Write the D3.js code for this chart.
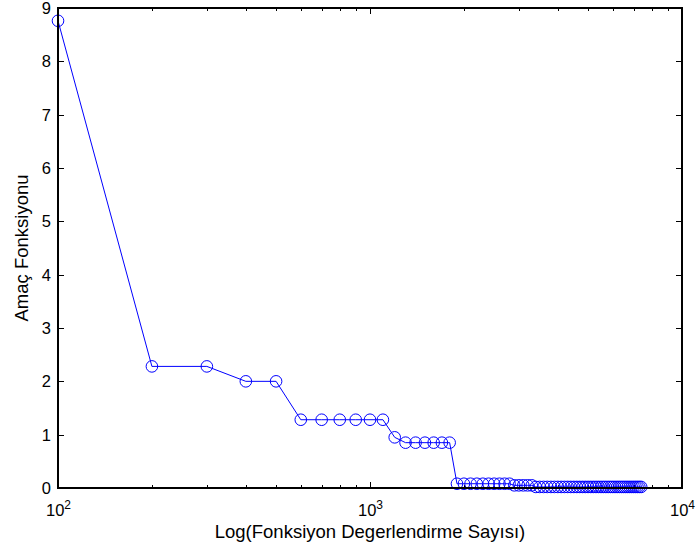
<!DOCTYPE html>
<html>
<head>
<meta charset="utf-8">
<script src="https://cdn.jsdelivr.net/npm/d3@7"></script>
<style>
  html, body { margin: 0; padding: 0; background: #fff; }
  svg { display: block; font-family: "Liberation Sans", Arial, Helvetica, sans-serif; }
</style>
</head>
<body>
<svg id="chart" width="697" height="551"></svg>
<script>
// ---- data ----
const evaluations = [100,200,300,400,500,600,700,800,900,1000,
  1100,1200,1300,1400,1500,1600,1700,1800,1900,2000,
  2100,2200,2300,2400,2500,2600,2700,2800,2900,3000,
  3100,3200,3300,3400,3500,3600,3700,3800,3900,4000,
  4100,4200,4300,4400,4500,4600,4700,4800,4900,5000,
  5100,5200,5300,5400,5500,5600,5700,5800,5900,6000,
  6100,6200,6300,6400,6500,6600,6700,6800,6900,7000,
  7100,7200,7300,7400];
const objective = [8.76,2.28,2.28,2.00,2.00,1.28,1.28,1.28,1.28,1.28,
  1.28,0.95,0.85,0.85,0.85,0.85,0.85,0.85,0.08,0.08,
  0.08,0.08,0.08,0.08,0.08,0.08,0.08,0.08,0.05,0.05,
  0.05,0.05,0.05,0.02,0.02,0.02,0.02,0.02,0.02,0.02,
  0.02,0.02,0.02,0.02,0.02,0.02,0.02,0.02,0.02,0.02,
  0.02,0.02,0.02,0.02,0.02,0.02,0.02,0.02,0.02,0.02,
  0.02,0.02,0.02,0.02,0.02,0.02,0.02,0.02,0.02,0.02,
  0.02,0.02,0.02,0.02];
const xMajorTicks = [100, 1000, 10000];
const xMajorExponents = ["2", "3", "4"];
const yTicks = [0,1,2,3,4,5,6,7,8,9];
const xLabel = "Log(Fonksiyon Degerlendirme Sayısı)";
const yLabel = "Amaç Fonksiyonu";

// ---- layout ----
const L = 58, R = 682, T = 8, B = 488;
const svg = d3.select("#chart");
const x = d3.scaleLog().domain([100, 10000]).range([L, R]);
const y = d3.scaleLinear().domain([0, 9]).range([B, T]);

// minor ticks
const minorTicks = [];
[100, 1000].forEach(d => { for (let k = 2; k <= 9; k++) minorTicks.push(d * k); });

const tickG = svg.append("g").attr("stroke", "#000").attr("stroke-width", 1);
minorTicks.forEach(v => {
  const px = Math.round(x(v)) + 0.5;
  tickG.append("line").attr("x1", px).attr("x2", px).attr("y1", B).attr("y2", B - 3);
  tickG.append("line").attr("x1", px).attr("x2", px).attr("y1", T).attr("y2", T + 3);
});
xMajorTicks.forEach(v => {
  const px = Math.round(x(v)) + 0.5;
  tickG.append("line").attr("x1", px).attr("x2", px).attr("y1", B).attr("y2", B - 6);
  tickG.append("line").attr("x1", px).attr("x2", px).attr("y1", T).attr("y2", T + 6);
});
yTicks.forEach(v => {
  const py = Math.round(y(v)) + 0.5;
  tickG.append("line").attr("x1", L).attr("x2", L + 6).attr("y1", py).attr("y2", py);
  tickG.append("line").attr("x1", R).attr("x2", R - 6).attr("y1", py).attr("y2", py);
});

// data line + markers
const line = d3.line().x((d, i) => x(evaluations[i])).y(d => y(d));
svg.append("path").datum(objective)
  .attr("d", line).attr("fill", "none").attr("stroke", "#0000ff").attr("stroke-width", 1);
svg.append("g").selectAll("circle").data(objective).join("circle")
  .attr("cx", (d, i) => x(evaluations[i])).attr("cy", d => y(d)).attr("r", 5.8)
  .attr("fill", "none").attr("stroke", "#0000ff").attr("stroke-width", 1);

// box
svg.append("rect").attr("x", L).attr("y", T).attr("width", R - L).attr("height", B - T)
  .attr("fill", "none").attr("stroke", "#000").attr("stroke-width", 2);

// y tick labels
svg.append("g").selectAll("text").data(yTicks).join("text")
  .attr("x", L - 7).attr("y", d => y(d)).attr("dy", "0.36em")
  .attr("text-anchor", "end").attr("font-size", 16.5).attr("fill", "#000")
  .text(d => d);

// x tick labels (10^n)
xMajorTicks.forEach((v, i) => {
  const t = svg.append("text").attr("x", x(v) - 12).attr("y", 516)
    .attr("font-size", 16.5).attr("fill", "#000");
  t.append("tspan").text("10");
  t.append("tspan").attr("dy", -7).attr("font-size", 12).text(xMajorExponents[i]);
});

// axis labels
svg.append("text").attr("x", (L + R) / 2).attr("y", 538)
  .attr("text-anchor", "middle").attr("font-size", 18.5).attr("fill", "#000").text(xLabel);
svg.append("text").attr("transform", "translate(28," + ((T + B) / 2) + ") rotate(-90)")
  .attr("text-anchor", "middle").attr("font-size", 18.5).attr("fill", "#000").text(yLabel);
</script>
</body>
</html>
